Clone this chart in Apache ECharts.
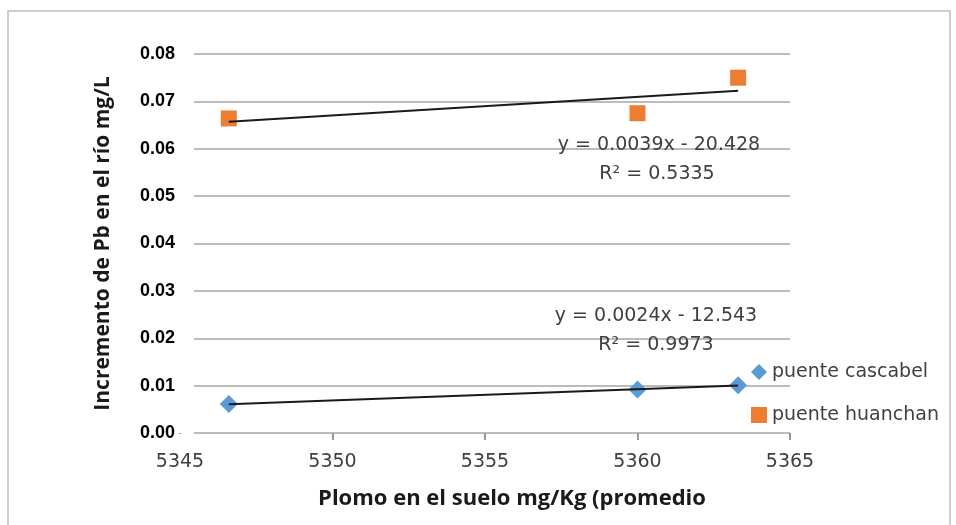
<!DOCTYPE html>
<html>
<head>
<meta charset="utf-8">
<script src="https://cdn.jsdelivr.net/npm/echarts@6/dist/echarts.min.js"></script>
<style>
html,body{margin:0;padding:0;background:#fff;}
#chart{width:956px;height:525px;}
</style>
</head>
<body>
<div id="chart"></div>
<script>
// ---- data ----
const xValues = [5346.6, 5360.0, 5363.3];
const cascabel = [0.0061, 0.0092, 0.0101];
const huanchan = [0.0664, 0.0675, 0.0750];
const seriesNames = ['puente cascabel', 'puente huanchan'];
const xTicks = [5345, 5350, 5355, 5360, 5365];
const yTicks = [0.00, 0.01, 0.02, 0.03, 0.04, 0.05, 0.06, 0.07, 0.08];
const eqCascabel = ['y = 0.0024x - 12.543', 'R² = 0.9973'];
const eqHuanchan = ['y = 0.0039x - 20.428', 'R² = 0.5335'];
const xTitle = 'Plomo en el suelo mg/Kg (promedio';
const yTitle = 'Incremento de Pb en el río mg/L';

function pairs(xs, ys) { return xs.map((x, i) => [x, ys[i]]); }
function trend(xs, ys) {
  const n = xs.length;
  const mx = xs.reduce((a, b) => a + b, 0) / n;
  const my = ys.reduce((a, b) => a + b, 0) / n;
  let sxy = 0, sxx = 0;
  for (let i = 0; i < n; i++) { sxy += (xs[i] - mx) * (ys[i] - my); sxx += (xs[i] - mx) ** 2; }
  const b = sxy / sxx, a = my - b * mx;
  const x0 = Math.min(...xs), x1 = Math.max(...xs);
  return [[x0, a + b * x0], [x1, a + b * x1]];
}

const regFont = 'DejaVu Sans';
const chart = echarts.init(document.getElementById('chart'), null, {renderer: 'canvas'});
const option = {
  animation: false,
  backgroundColor: '#fff',
  grid: [
    {left: 180, right: 166, top: 54, bottom: 92},
    {left: 194, right: 166, top: 54, bottom: 92}
  ],
  xAxis: [
    {
      gridIndex: 0, type: 'value', min: xTicks[0], max: xTicks[xTicks.length - 1], interval: 5,
      axisLine: {show: false},
      axisTick: {show: true, inside: false, length: 7, lineStyle: {color: '#999', width: 2}},
      axisLabel: {fontFamily: regFont, fontSize: 19, color: '#404040', margin: 20,
                  formatter: v => String(v)},
      splitLine: {show: false}
    },
    {gridIndex: 1, type: 'value', min: 0, max: 1, show: false}
  ],
  yAxis: [
    {gridIndex: 0, type: 'value', min: 0, max: 0.08, show: false},
    {
      gridIndex: 1, type: 'value', min: yTicks[0], max: yTicks[yTicks.length - 1], interval: 0.01,
      axisLine: {show: false}, axisTick: {show: false},
      axisLabel: {formatter: v => v.toFixed(2), fontFamily: 'Liberation Sans', fontWeight: 'bold',
                  fontSize: 18, color: '#000', margin: 19},
      splitLine: {lineStyle: {color: '#a6a6a6', width: 1.5}},
      name: yTitle, nameLocation: 'middle', nameGap: 80,
      nameTextStyle: {fontFamily: 'Open Sans', fontWeight: 'bold', fontSize: 21, color: '#1a1a1a'}
    }
  ],
  legend: {
    orient: 'vertical', left: 746, top: 357, itemWidth: 16, itemHeight: 16, itemGap: 23,
    textStyle: {fontFamily: regFont, fontSize: 19, color: '#404040', lineHeight: 20},
    data: [
      {name: seriesNames[0], icon: 'diamond'},
      {name: seriesNames[1], icon: 'rect'}
    ]
  },
  series: [
    {
      name: seriesNames[0], type: 'scatter', xAxisIndex: 0, yAxisIndex: 0,
      symbol: 'diamond', symbolSize: 18, itemStyle: {color: '#5B9BD5', opacity: 1},
      data: pairs(xValues, cascabel), z: 3
    },
    {
      name: seriesNames[1], type: 'scatter', xAxisIndex: 0, yAxisIndex: 0,
      symbol: 'rect', symbolSize: 16, itemStyle: {color: '#ED7D31', opacity: 1},
      data: pairs(xValues, huanchan), z: 3
    },
    {
      name: 'trend cascabel', type: 'line', xAxisIndex: 0, yAxisIndex: 0, symbol: 'none',
      lineStyle: {color: '#1a1a1a', width: 2}, data: trend(xValues, cascabel), z: 4, silent: true
    },
    {
      name: 'trend huanchan', type: 'line', xAxisIndex: 0, yAxisIndex: 0, symbol: 'none',
      lineStyle: {color: '#1a1a1a', width: 2}, data: trend(xValues, huanchan), z: 4, silent: true
    }
  ],
  graphic: [
    {type: 'rect', shape: {x: 8, y: 11, width: 942, height: 540}, silent: true, z: -10,
     style: {fill: 'none', stroke: '#bfbfbf', lineWidth: 1.5}},
    // mask the tick at the axis minimum, which lies outside the plotted frame in the reference
    {type: 'rect', shape: {x: 175, y: 434, width: 10, height: 10}, silent: true, z: 100,
     style: {fill: '#fff'}},
    {type: 'text', x: 512, y: 499, silent: true,
     style: {text: xTitle, fontFamily: 'Open Sans', fontWeight: 'bold', fontSize: 22, fill: '#1a1a1a',
             textAlign: 'center', textVerticalAlign: 'middle'}},
    {type: 'text', x: 659, y: 145, silent: true, z: 10,
     style: {text: eqHuanchan[0], fontFamily: regFont, fontSize: 19, fill: '#404040',
             textAlign: 'center', textVerticalAlign: 'middle'}},
    {type: 'text', x: 657, y: 174, silent: true, z: 10,
     style: {text: eqHuanchan[1], fontFamily: regFont, fontSize: 19, fill: '#404040',
             textAlign: 'center', textVerticalAlign: 'middle'}},
    {type: 'text', x: 656, y: 316, silent: true, z: 10,
     style: {text: eqCascabel[0], fontFamily: regFont, fontSize: 19, fill: '#404040',
             textAlign: 'center', textVerticalAlign: 'middle'}},
    {type: 'text', x: 656, y: 345, silent: true, z: 10,
     style: {text: eqCascabel[1], fontFamily: regFont, fontSize: 19, fill: '#404040',
             textAlign: 'center', textVerticalAlign: 'middle'}}
  ]
};
chart.setOption(option);
</script>
</body>
</html>
